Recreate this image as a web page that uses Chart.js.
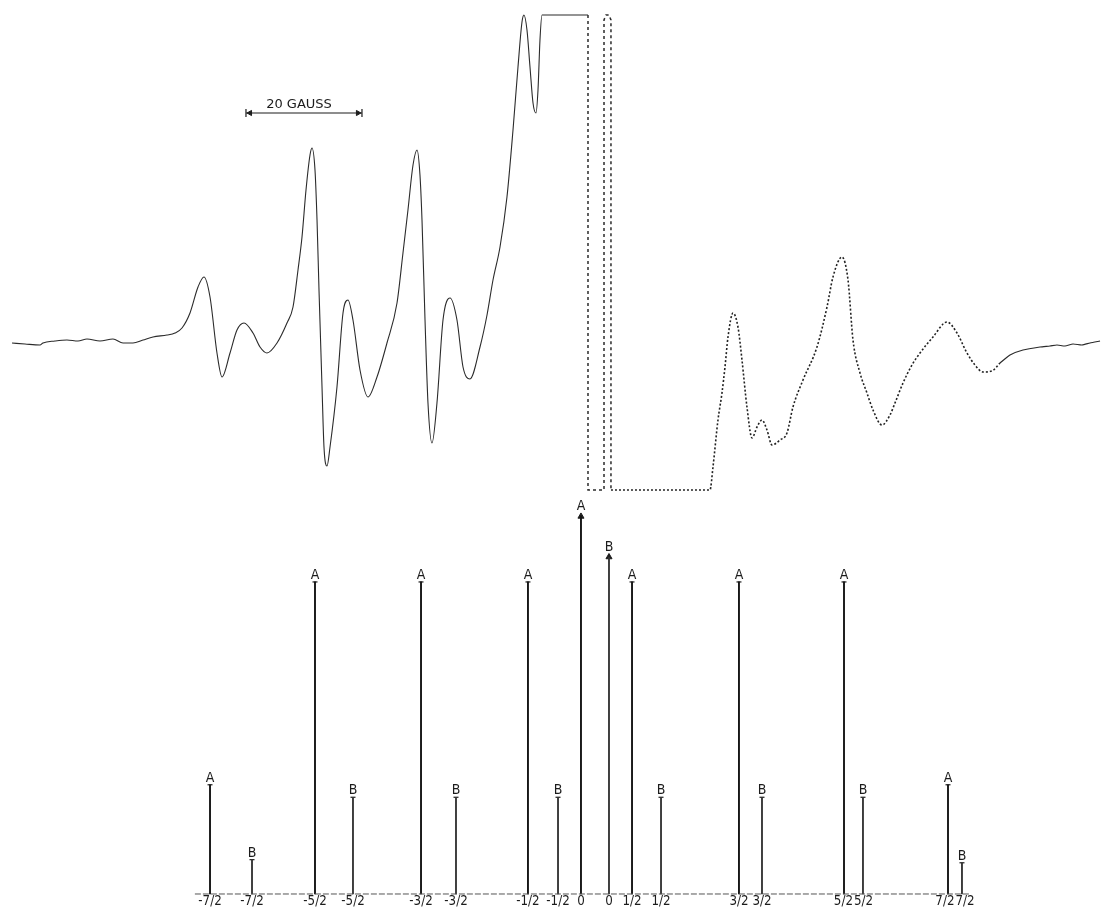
<!DOCTYPE html>
<html><head><meta charset="utf-8">
<script src="https://cdn.jsdelivr.net/npm/chart.js@4.4.1/dist/chart.umd.min.js"></script>
<style>html,body{margin:0;padding:0;background:#fff}#wrap{width:1101px;height:909px;position:relative}</style>
</head><body><div id="wrap"><canvas id="c"></canvas></div>
<script>
// ---- EPR spectrum: magnetic field (gauss, arbitrary origin) vs derivative signal (arb. units)
const specLeftField = [2.07,4.31,6.90,7.41,9.48,11.55,13.45,15.00,17.24,19.48,21.21,22.93,24.66,26.38,28.79,30.17,31.38,32.76,34.14,35.17,36.21,37.41,38.28,39.66,40.86,42.07,43.62,44.83,46.03,47.76,49.48,50.52,51.38,52.07,52.76,53.45,53.79,54.31,54.66,55.00,55.52,55.86,56.38,56.90,58.10,59.14,60.00,60.86,62.07,63.45,65.00,66.72,68.45,69.48,70.34,71.21,71.90,72.41,72.76,73.28,73.79,74.48,75.34,76.38,77.59,78.79,79.83,81.03,82.76,83.97,85.00,86.21,87.41,88.45,89.31,90.00,90.34,90.86,91.38,91.90,92.41,92.76,93.10,93.45,101.38];
const specLeftSignal = [-0.33,-0.67,-1.0,-0.33,0.33,0.67,0.33,1.0,0.33,1.0,-0.33,-0.33,0.67,1.67,2.33,3.0,4.67,9.67,18.33,21.67,15.0,-3.67,-11.67,-3.67,4.0,6.33,3.0,-1.67,-3.67,-0.33,6.33,11.67,24.0,35.0,50.67,62.33,64.67,57.33,40.67,17.33,-15.0,-35.0,-41.33,-35.0,-15.0,9.67,14.0,7.33,-9.33,-18.33,-11.67,-0.33,13.0,29.67,44.0,59.0,64.0,55.67,40.67,7.33,-20.33,-33.67,-20.33,7.33,14.67,7.33,-8.33,-12.33,-1.67,9.0,20.67,31.67,48.33,70.67,91.67,106.67,109,104,91.67,79.67,76.33,84.0,100.67,109,109];
const specCentreField = [101.38,101.38,104.14,104.14,104.48,105.00,105.34,105.34];
const specCentreSignal = [109,-49.33,-49.33,107.33,109,109,107.33,-49.33];
const specRightField = [105.34,122.41,122.93,123.79,124.48,125.00,125.52,126.38,127.24,127.93,128.79,129.66,130.52,131.38,132.24,133.10,134.48,135.69,136.72,138.45,140.86,142.59,143.62,145.17,146.21,147.07,148.28,149.48,150.52,152.07,153.45,154.31,155.69,157.24,158.62,160.86,163.28,165.00,166.72,168.10,169.48,171.03,172.41];
const specRightSignal = [-49.33,-49.33,-41.67,-26.0,-17.0,-8.33,1.67,9.67,5.0,-6.0,-21.67,-32.0,-28.33,-26.0,-29.33,-34.33,-32.67,-30.33,-21.67,-12.67,-1.67,11.67,21.67,28.33,20.67,0.67,-10.33,-17.0,-22.67,-27.67,-24.33,-20.33,-13.67,-7.67,-3.67,1.67,6.67,3.0,-3.67,-7.67,-10.0,-9.67,-7.0];
const specTailField = [172.41,174.14,176.38,179.31,181.03,182.24,183.62,185.00,186.55,187.93,189.66];
const specTailSignal = [-7.0,-4.33,-2.67,-1.67,-1.33,-1.0,-1.33,-0.67,-1.0,-0.33,0.33];

// ---- 20 gauss scale bar
const scaleBarField = [42.41, 62.41];
const scaleBarLevel = 76.33;
const scaleBarText = '20 GAUSS';

// ---- stick diagram (relative intensity), species A and B
const stickAField = [36.21,54.31,72.59,91.03,100.17,108.97,127.41,145.52,163.45];
const stickAIntensity = [35,100,100,100,121,100,100,100,35];
const stickALabels = ['-7/2','-5/2','-3/2','-1/2','0','1/2','3/2','5/2','7/2'];
const stickBField = [43.45,60.86,78.62,96.21,105.00,113.97,131.38,148.79,165.86];
const stickBIntensity = [11,31,31,31,108,31,31,31,10];
const stickBLabels = ['-7/2','-5/2','-3/2','-1/2','0','1/2','3/2','5/2','7/2'];
const stickBaseField = [33.6, 167.2];

const pts = (xs, ys) => xs.map((x, i) => ({x, y: ys[i]}));
const isArrow = l => l === '0';

const ink = '#1c1c1c';
const capPts = (xs, ys, ls) => xs.map((x,i)=>({x, y: ys[i], l: ls[i]})).filter(p => !isArrow(p.l));
const arrowPts = (xs, ys, ls) => xs.map((x,i)=>({x, y: ys[i], l: ls[i]})).filter(p => isArrow(p.l));

const NARROW = 0.85;
const textPlugin = {
  id: 'texts',
  afterDatasetsDraw(chart) {
    const {ctx, scales: {x, yb, ys}} = chart;
    ctx.save();
    ctx.fillStyle = ink;
    ctx.textAlign = 'center';
    const base = yb.getPixelForValue(0);
    const ticks = [];
    const drawSet = (fs, is, ls, letter) => {
      fs.forEach((f, i) => {
        const px = x.getPixelForValue(f);
        const py = yb.getPixelForValue(is[i]);
        ctx.font = '14px "DejaVu Sans"';
        ctx.textBaseline = 'alphabetic';
        ctx.save();
        ctx.translate(px, py - (isArrow(ls[i]) ? 6 : 3));
        ctx.scale(0.9, 1);
        ctx.fillText(letter, 0, 0);
        ctx.restore();
        ticks.push({px, text: ls[i]});
      });
    };
    drawSet(stickAField, stickAIntensity, stickALabels, 'A');
    drawSet(stickBField, stickBIntensity, stickBLabels, 'B');
    // tick labels under the sticks, nudged apart where they would collide
    ctx.font = '14px "DejaVu Sans"';
    ctx.textBaseline = 'top';
    ticks.sort((a, b) => a.px - b.px);
    ticks.forEach(t => { t.w = ctx.measureText(t.text).width * NARROW; t.c = t.px; });
    for (let i = 1; i < ticks.length; i++) {
      const a = ticks[i - 1], b = ticks[i];
      const gap = (b.c - b.w / 2) - (a.c + a.w / 2);
      if (gap < 1) { const d = (1 - gap) / 2; a.c -= d; b.c += d; }
    }
    ticks.forEach(t => {
      ctx.save();
      ctx.translate(t.c, base);
      ctx.scale(NARROW, 1);
      ctx.fillText(t.text, 0, 0);
      ctx.restore();
    });
    ctx.font = '13px "DejaVu Sans"';
    ctx.textBaseline = 'alphabetic';
    ctx.fillText(scaleBarText, x.getPixelForValue((scaleBarField[0] + scaleBarField[1]) / 2) - 5, ys.getPixelForValue(scaleBarLevel) - 5);
    ctx.restore();
  }
};

new Chart(document.getElementById('c'), {
  type: 'line',
  data: {
    datasets: [
      {data: pts(specLeftField, specLeftSignal), yAxisID: 'ys', borderColor: '#2b2b2b', borderWidth: 1.1, pointRadius: 0, cubicInterpolationMode: 'monotone'},
      {data: pts(specCentreField, specCentreSignal), yAxisID: 'ys', borderColor: '#2b2b2b', borderWidth: 1.5, borderDash: [3, 3], pointRadius: 0, tension: 0},
      {data: pts(specRightField, specRightSignal), yAxisID: 'ys', borderColor: '#222', borderWidth: 1.6, borderDash: [2, 2], pointRadius: 0, cubicInterpolationMode: 'monotone'},
      {data: pts(specTailField, specTailSignal), yAxisID: 'ys', borderColor: '#2b2b2b', borderWidth: 1.2, pointRadius: 0, tension: 0.2},
      {data: pts(scaleBarField, scaleBarField.map(() => scaleBarLevel)), yAxisID: 'ys', borderColor: ink, borderWidth: 1.2, pointStyle: 'line', rotation: 90, pointRadius: 4, pointBorderColor: ink, pointBorderWidth: 1.2},
      {type: 'scatter', data: [{x: scaleBarField[0] + 0.7, y: scaleBarLevel}, {x: scaleBarField[1] - 0.7, y: scaleBarLevel}], yAxisID: 'ys', pointStyle: 'triangle', rotation: [-90, 90], pointRadius: 3, backgroundColor: ink, borderColor: ink, borderWidth: 1},
      {data: pts(stickBaseField, stickBaseField.map(() => 0)), yAxisID: 'yb', borderColor: '#555', borderWidth: 1, borderDash: [6, 2], pointRadius: 0},
      {type: 'bar', data: pts(stickAField, stickAIntensity), yAxisID: 'yb', backgroundColor: '#151515', barThickness: 1.25, grouped: false},
      {type: 'bar', data: pts(stickBField, stickBIntensity), yAxisID: 'yb', backgroundColor: '#333', barThickness: 1.2, grouped: false},
      {type: 'scatter', data: [...capPts(stickAField, stickAIntensity, stickALabels), ...capPts(stickBField, stickBIntensity, stickBLabels)], yAxisID: 'yb', pointStyle: 'line', pointRadius: 2.5, borderColor: ink, borderWidth: 1.2},
      {type: 'scatter', data: [...arrowPts(stickAField, stickAIntensity, stickALabels), ...arrowPts(stickBField, stickBIntensity, stickBLabels)], yAxisID: 'yb', pointStyle: 'triangle', pointRadius: 3.5, backgroundColor: ink, borderColor: ink, borderWidth: 1}
    ]
  },
  options: {
    responsive: true, maintainAspectRatio: false, animation: false,
    layout: {padding: 0, autoPadding: false},
    plugins: {legend: {display: false}, tooltip: {enabled: false}},
    scales: {
      x: {type: 'linear', min: 0, max: 189.83, display: false, offset: false},
      ys: {type: 'linear', min: -189, max: 114, display: false},
      yb: {type: 'linear', min: -4.81, max: 286.5, display: false}
    }
  },
  plugins: [textPlugin]
});
</script></body></html>
